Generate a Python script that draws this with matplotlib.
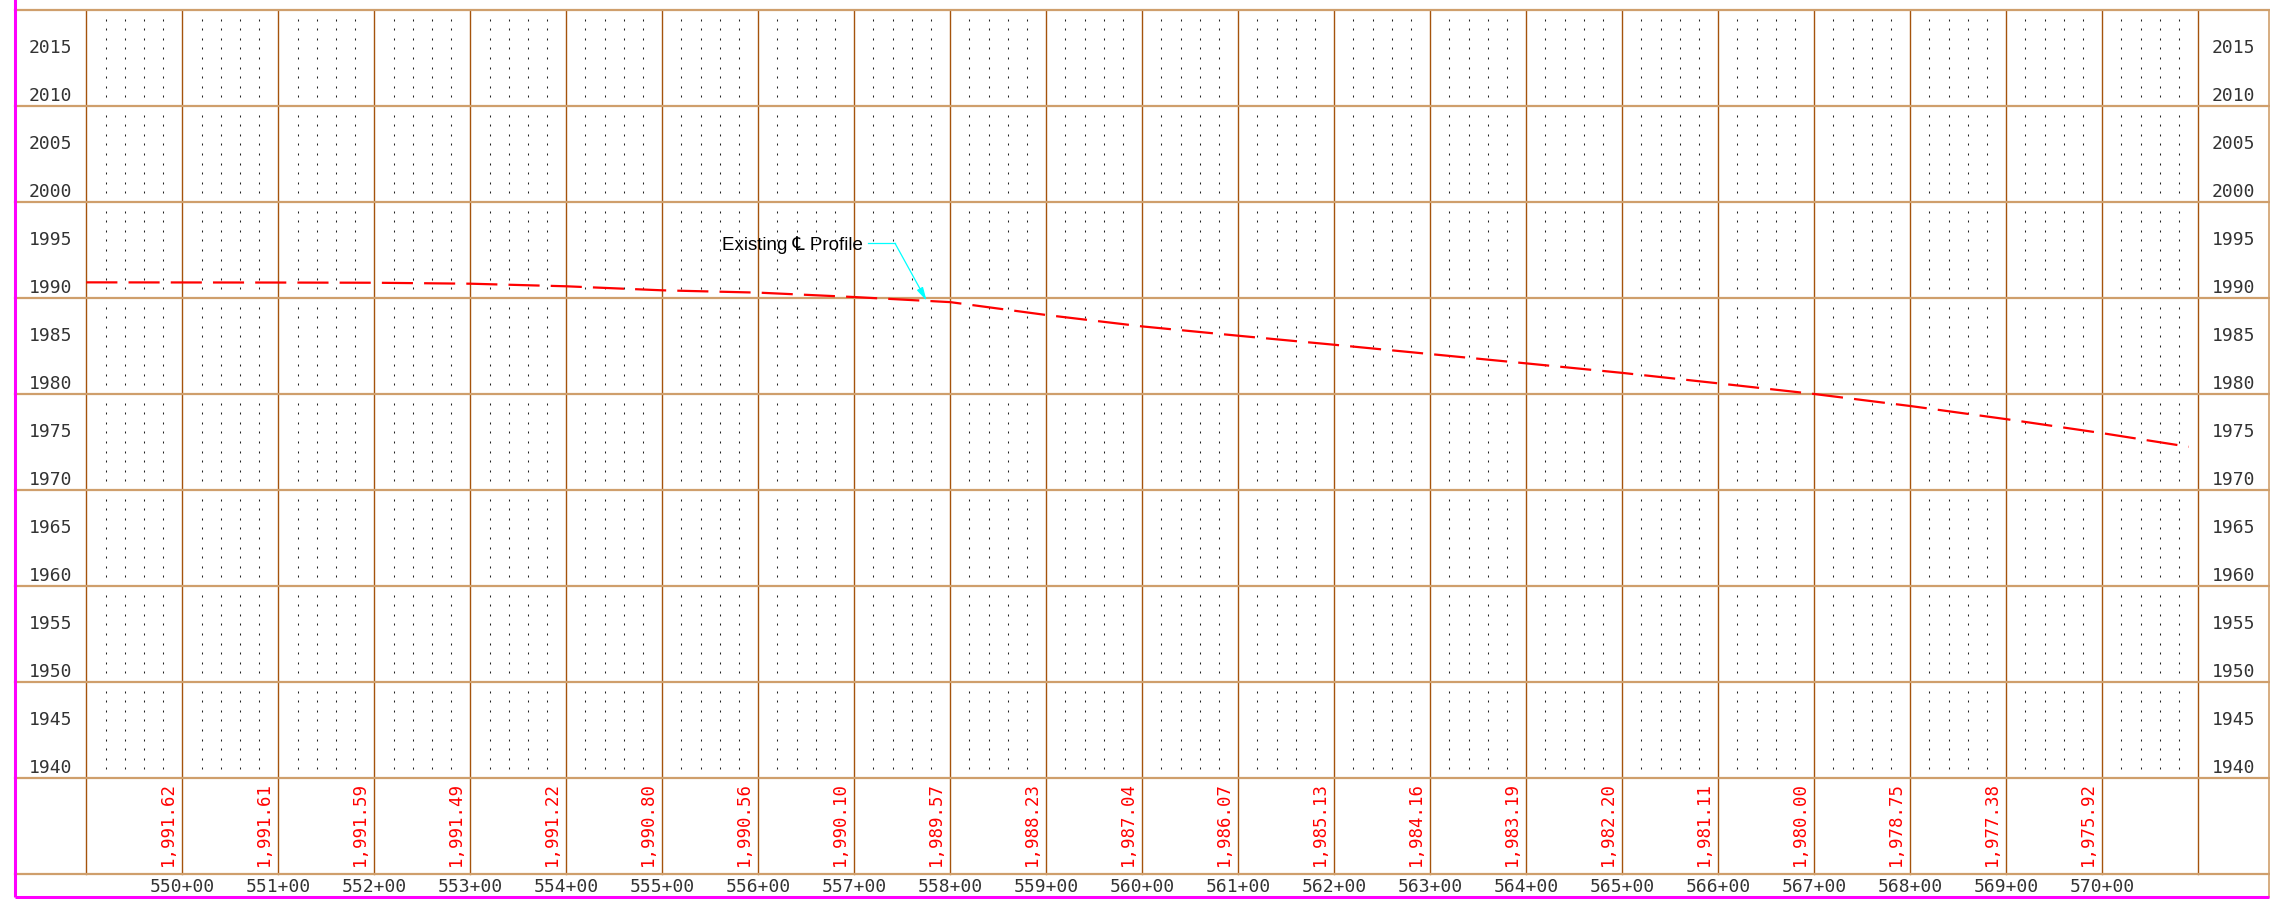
import numpy as np
import matplotlib
matplotlib.use("Agg")
from matplotlib import pyplot as plt

# profile data (station in hundreds of feet, elevation in feet)
stations = [549.0, 550, 551, 552, 553, 554, 555, 556, 557, 558, 559, 560,
            561, 562, 563, 564, 565, 566, 567, 568, 569, 570, 570.9]
elevations = [1991.63, 1991.62, 1991.61, 1991.59, 1991.49, 1991.22, 1990.80,
              1990.56, 1990.10, 1989.57, 1988.23, 1987.04, 1986.07, 1985.13,
              1984.16, 1983.19, 1982.20, 1981.11, 1980.00, 1978.75, 1977.38,
              1975.92, 1974.50]
label_stations = list(range(550, 571))
label_elevations = elevations[1:22]
elev_ticks = list(range(1940, 2020, 5))

# sheet layout
STA_MIN, STA_MAX = 549, 571
ELEV_MIN, ELEV_MAX = 1940, 2020
BAND_BOT = 1930
SHEET_LEFT, SHEET_RIGHT = 548.26, 571.74
SHEET_BOT = 1927.64

V_COLOR = '#A4530C'
H_COLOR = '#CF9F6C'
MONO = 'DejaVu Sans Mono'
TXT = '#333333'

fig = plt.figure(figsize=(22.7, 8.99), dpi=100)
ax = fig.add_axes([0, 0, 1, 1])
ax.set_xlim(548.101, 571.747)
ax.set_ylim(1927.396, 2021.042)
ax.axis('off')

# dotted minor grid
dx = [k + f for k in range(STA_MIN, STA_MAX) for f in (0.2, 0.4, 0.6, 0.8)]
dy = [e for e in range(ELEV_MIN, ELEV_MAX) if e % 10]
gx, gy = np.meshgrid(dx, dy)
ax.plot(gx.ravel(), gy.ravel(), ls='none', marker='|', ms=1.4, mew=0.75,
        color='#222222')

# major grid
for s in range(STA_MIN, STA_MAX + 1):
    ax.plot([s, s], [BAND_BOT, ELEV_MAX], color=V_COLOR, lw=1.0)
for e in list(range(ELEV_MIN, ELEV_MAX + 1, 10)) + [BAND_BOT]:
    ax.plot([SHEET_LEFT, SHEET_RIGHT], [e, e], color=H_COLOR, lw=1.6)
ax.plot([SHEET_RIGHT, SHEET_RIGHT], [SHEET_BOT, ELEV_MAX], color=H_COLOR, lw=1.2)

# sheet border
ax.plot([SHEET_LEFT, SHEET_LEFT], [SHEET_BOT, 2021.1], color='#FF00FF', lw=2.2,
        solid_capstyle='butt')
ax.plot([SHEET_LEFT, SHEET_RIGHT], [SHEET_BOT, SHEET_BOT], color='#FF00FF', lw=2.2,
        solid_capstyle='butt')

# elevation labels on both sides
for e in elev_ticks:
    for x in ((SHEET_LEFT + STA_MIN) / 2, (STA_MAX + SHEET_RIGHT) / 2):
        ax.text(x, e + 0.47, str(e), ha='center', va='baseline',
                fontsize=13, family=MONO, color=TXT)

# station labels
for s in label_stations:
    ax.text(s, 1928.16, '%d+00' % s, ha='center', va='baseline',
            fontsize=13, family=MONO, color=TXT)

# elevation values along the bottom band
for s, e in zip(label_stations, label_elevations):
    ax.text(s - 0.055, 1930.8, '{:,.2f}'.format(e), rotation=90,
            ha='right', va='bottom', fontsize=12.5, family=MONO, color='#FF0000')

# existing centerline profile
ax.plot(stations, elevations, color='#FF0000', lw=1.6,
        linestyle=(0, (14.0, 5.0)))

# callout
tip_s = 557.754
tip_e = np.interp(tip_s, stations, elevations)
ax.text(555.62, 1995.0, 'Existing \u2104 Profile', ha='left', va='baseline',
        fontsize=13.5, family=['Liberation Sans', 'DejaVu Sans'], color='black')
ax.plot([557.143, 557.424], [1995.70, 1995.70], color='#00FFFF', lw=0.9)
ax.annotate('', xy=(tip_s, tip_e), xytext=(557.424, 1995.70),
            arrowprops=dict(arrowstyle='-|>,head_length=0.8,head_width=0.2',
                            color='#00FFFF', lw=0.9, shrinkA=0, shrinkB=0))

fig.savefig('out.png', dpi=100)
